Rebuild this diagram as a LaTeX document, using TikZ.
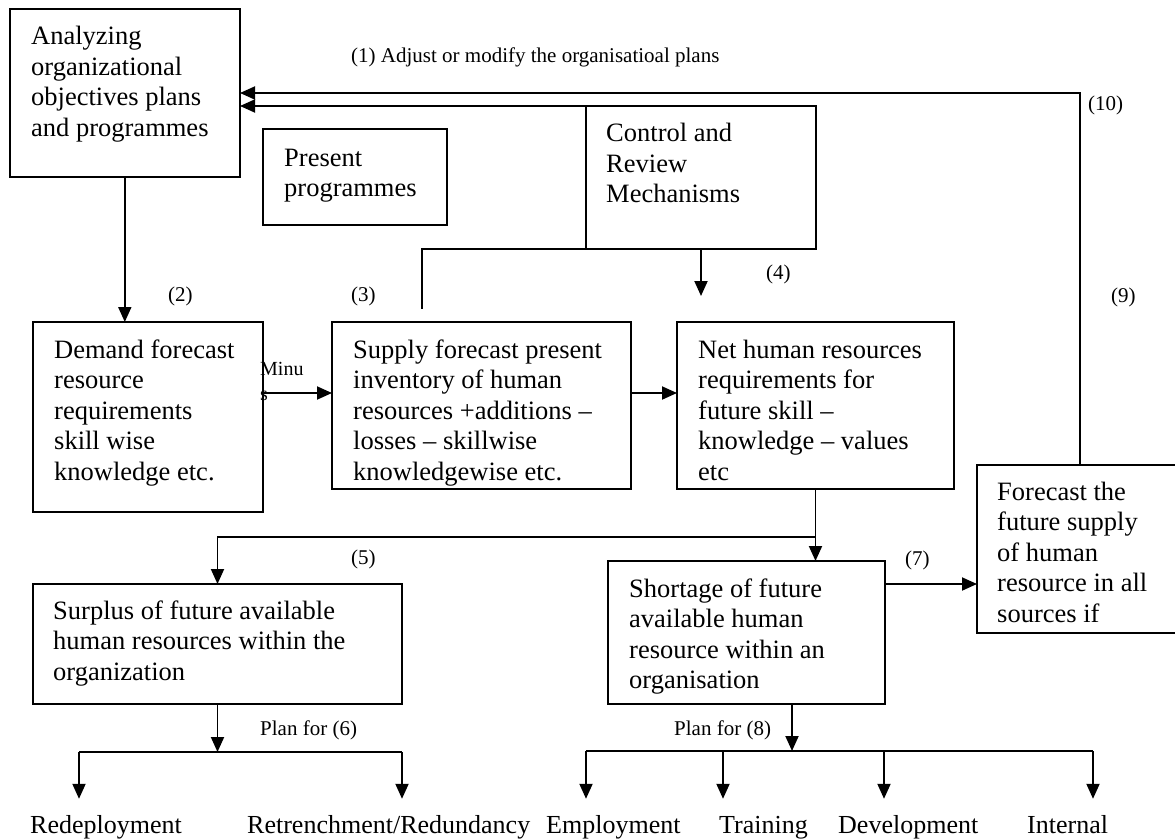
\documentclass[tikz,border=0pt]{standalone}
\usepackage{fontspec}
\setmainfont{Liberation Serif}
\usetikzlibrary{arrows.meta}
\newcommand{\mylines}[1]{\begin{tabular}[t]{@{}l@{}}#1\end{tabular}}
\tikzset{
  bx/.style={draw, line width=1.9pt, anchor=north west, outer sep=0pt, inner sep=0pt},
  txt/.style={anchor=base west, inner sep=0pt, font=\fontsize{26.5}{30.5}\selectfont},
  lab/.style={anchor=base west, inner sep=0pt, font=\fontsize{21}{25}\selectfont},
  leaf/.style={anchor=base west, inner sep=0pt, text height=34pt, font=\fontsize{26}{30}\selectfont},
  ln/.style={line width=1.9pt},
  arr/.style={line width=1.9pt, -{Triangle[length=15pt,width=13pt]}},
}
\begin{document}
\begin{tikzpicture}[x=1pt,y=-1pt]
\useasboundingbox (0,0) rectangle (1175,840);
\fill[white] (0,0) rectangle (1175,840);
\clip (0,0) rectangle (1175,840);

% boxes
\node[bx, minimum width=230.4pt, minimum height=168pt] (A) at (9.6,9) {};
\node[bx, minimum width=184pt, minimum height=96pt] (P) at (263,129) {};
\node[bx, minimum width=230pt, minimum height=143pt] (C) at (586,106) {};
\node[bx, minimum width=230pt, minimum height=190pt] (D) at (33,322) {};
\node[bx, minimum width=299pt, minimum height=167pt] (S) at (332,322) {};
\node[bx, minimum width=277pt, minimum height=167pt] (N) at (677,322) {};
\node[bx, minimum width=206pt, minimum height=168pt] (F) at (977,465) {};
\node[bx, minimum width=369pt, minimum height=120pt] (U) at (33,584) {};
\node[bx, minimum width=277pt, minimum height=143pt] (H) at (608,561) {};

% box texts
\node[txt] (At) at (31,45) {\mylines{Analyzing\\organizational\\objectives plans\\and programmes}};
\node[txt] (Pt) at (284,166) {\mylines{Present\\programmes}};
\node[txt] (Ct) at (606,142) {\mylines{Control and\\Review\\Mechanisms}};
\node[txt] (Dt) at (54,358) {\mylines{Demand forecast\\resource\\requirements\\skill wise\\knowledge etc.}};
\node[txt] (St) at (353,358) {\mylines{Supply forecast present\\inventory of human\\resources +additions –\\losses – skillwise\\knowledgewise etc.}};
\node[txt] (Nt) at (698,358) {\mylines{Net human resources\\requirements for\\future skill –\\knowledge – values\\etc}};
\node[txt] (Ft) at (997,500) {\mylines{Forecast the\\future supply\\of human\\resource in all\\sources if}};
\node[txt] (Ut) at (53,619) {\mylines{Surplus of future available\\human resources within the\\organization}};
\node[txt] (Ht) at (629,597) {\mylines{Shortage of future\\available human\\resource within an\\organisation}};

% small labels
\node[lab] (l1) at (351,63) {(1) Adjust or modify the organisatioal plans};
\node[lab] (l10) at (1088,111) {(10)};
\node[lab] (l9) at (1111,302) {(9)};
\node[lab] (l2) at (168,301.5) {(2)};
\node[lab] (l3) at (351,301.5) {(3)};
\node[lab] (l4) at (766,279.5) {(4)};
\node[lab] (l5) at (351,564.5) {(5)};
\node[lab] (l7) at (905,565) {(7)};
\node[lab] (l6) at (260,735) {Plan for (6)};
\node[lab] (l8) at (674,735) {Plan for (8)};
\node[anchor=base west, inner sep=0pt, font=\fontsize{20}{25}\selectfont] (mi) at (260,375) {\begin{tabular}[t]{@{}l@{}}Minu\\s\end{tabular}};

% leaf labels
\node[leaf] (r1) at (30,833) {Redeployment};
\node[leaf] (r2) at (247,833) {Retrenchment/Redundancy};
\node[leaf] (r3) at (546,833) {Employment};
\node[leaf] (r4) at (719,833) {Training};
\node[leaf] (r5) at (838,833) {Development};
\node[leaf] (r6) at (1027,833) {Internal};

% helper coordinates
\coordinate (m) at (0,393);
\coordinate (k) at (0,537);
\coordinate (q) at (0,584);
\coordinate (s3) at (422,309);
\coordinate (c4) at (701,296);
\coordinate (g6) at (217.5,752);
\coordinate (g8) at (792,751);
\coordinate (h1) at (79,752);
\coordinate (h2) at (402,752);
\coordinate (h3) at (586,751);
\coordinate (h4) at (723,751);
\coordinate (h5) at (884,751);
\coordinate (h6) at (1093,751);

% connectors
\draw[arr] (F.north) |- (A.east);
\draw[arr] (C.north west) -- (A.east |- C.north west);
\draw[ln] (C.south west) -| (s3);
\draw[arr] (C.south) -- (c4);
\draw[arr] (A.south) -- (A.south |- D.north);
\draw[arr] (D.east |- m) -- (S.west |- m);
\draw[arr] (S.east |- m) -- (N.west |- m);
\draw[arr] (N.south) -- (N.south |- H.north);
\draw[arr] (N.south |- k) -| (U.north);
\draw[arr] (H.east |- q) -- (F.west |- q);

\draw[arr] (U.south) -- (g6);
\draw[ln] (h1) -- (h2);
\draw[arr] (h1) -- (h1 |- r1.north);
\draw[arr] (h2) -- (h2 |- r2.north);

\draw[arr] (H.south -| g8) -- (g8);
\draw[ln] (h3) -- (h6);
\draw[arr] (h3) -- (h3 |- r3.north);
\draw[arr] (h4) -- (h4 |- r4.north);
\draw[arr] (h5) -- (h5 |- r5.north);
\draw[arr] (h6) -- (h6 |- r6.north);
\end{tikzpicture}
\end{document}
